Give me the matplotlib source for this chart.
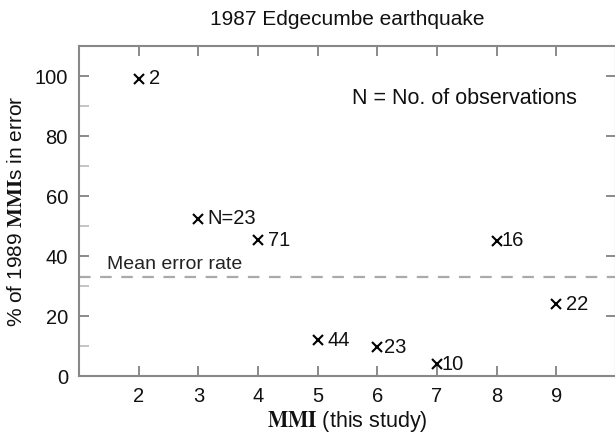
import matplotlib
matplotlib.use("Agg")
import matplotlib.pyplot as plt
from matplotlib.ticker import MultipleLocator

plt.rcParams['font.family'] = ['Liberation Sans', 'DejaVu Sans']
plt.rcParams['mathtext.fontset'] = 'stix'

# Data
mmi = [2, 3, 4, 5, 6, 7, 8, 9]
pct_error = [99.0, 52.5, 45.2, 12.0, 9.6, 4.0, 45.0, 24.0]
labels = ['2', 'N=23', '71', '44', '23', '10', '16', '22']
label_dx = [10, 9, 10, 10, 7, 5, 5, 10]   # pixel offsets for labels
mean_error = 33.0
xticks = [2, 3, 4, 5, 6, 7, 8, 9]
yticks = [0, 20, 40, 60, 80, 100]

fig = plt.figure(figsize=(6.15, 4.34), dpi=100)
ax = fig.add_axes([79/615, 58/434, 537/615, (376-46)/434])

ax.plot(mmi, pct_error, linestyle='none', marker='x', color='black',
        markersize=6.5, markeredgewidth=1.5)
for x, y, lab, dx in zip(mmi, pct_error, labels, label_dx):
    ax.annotate(lab, (x, y), xytext=(dx*0.72, 0), textcoords='offset points',
                ha='left', va='center', fontsize=14.5, color='#111111')

ax.axhline(mean_error, color='#aaaaaa', linestyle=(0, (5.2, 4.3)), linewidth=1.6)
ax.text(1.47, mean_error + 1.2, 'Mean error rate', fontsize=14, color='#222222',
        ha='left', va='bottom')
ax.text(5.57, 92.4, 'N = No. of observations', fontsize=15.5, color='#111111',
        ha='left', va='center')

ax.set_xlim(1, 10)
ax.set_ylim(0, 110)
ax.set_xticks(xticks)
ax.set_yticks(yticks)
ax.yaxis.set_minor_locator(MultipleLocator(10))

ax.tick_params(axis='both', which='major', direction='in', length=7, width=1.2,
               color='#777777', labelsize=14.5, labelcolor='#111111', pad=8)
ax.tick_params(axis='x', which='major', top=True)
ax.tick_params(axis='y', which='major', right=True)
ax.tick_params(axis='y', which='minor', direction='in', length=7, width=1.2,
               color='#bbbbbb', left=True, right=False)
ax.tick_params(axis='x', which='minor', bottom=False, top=False)

for s in ax.spines.values():
    s.set_color('#888888')
    s.set_linewidth(1.5)

ax.set_title('1987 Edgecumbe earthquake', fontsize=15, color='#111111', pad=15)
ax.set_ylabel(r'% of 1989 $\mathbf{MMI}$s in error', fontsize=15, color='#111111', labelpad=6)
ax.set_xlabel(r'$\mathbf{MMI}$ (this study)', fontsize=15.5, color='#111111', labelpad=2)

fig.savefig('out.png', dpi=100)
